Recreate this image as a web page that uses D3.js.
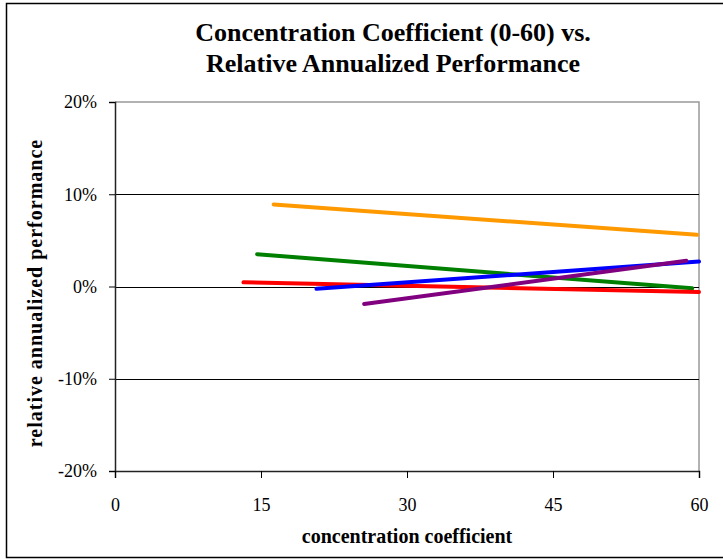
<!DOCTYPE html>
<html>
<head>
<meta charset="utf-8">
<script src="https://cdn.jsdelivr.net/npm/d3@7"></script>
<style>
  body { margin: 0; background: #fff; }
  svg { display: block; font-family: 'Liberation Serif', 'Times New Roman', serif; }
</style>
</head>
<body>
<script>
(function() {
  'use strict';

  // data: each series is a straight segment [x, y]
  const seriesNames = ['orange', 'green', 'red', 'blue', 'purple'];
  const seriesColors = ['#ff9900', '#008000', '#ff0000', '#0000ff', '#800080'];
  const orangeLine = [[16.3, 0.089], [59.8, 0.056]];
  const greenLine = [[14.6, 0.035], [59.3, -0.002]];
  const redLine = [[13.2, 0.0045], [60, -0.006]];
  const blueLine = [[20.7, -0.0025], [60, 0.027]];
  const purpleLine = [[25.6, -0.019], [58.7, 0.028]];
  const seriesValues = [orangeLine, greenLine, redLine, blueLine, purpleLine];

  const xTicks = [0, 15, 30, 45, 60];
  const yTicks = [-0.2, -0.1, 0, 0.1, 0.2];

  const w = 723;
  const h = 559;
  const left = 115;
  const right = 699;
  const top = 102;
  const bottom = 471;
  const serif = "'Liberation Serif', 'Times New Roman', serif";

  const svg = d3.select('body')
    .append('svg')
    .attr('width', w)
    .attr('height', h);

  // outer frame
  svg.append('rect')
    .attr('x', 6.5).attr('y', 3.5)
    .attr('width', w + 10).attr('height', 554)
    .attr('fill', 'none')
    .attr('stroke', '#000')
    .attr('stroke-width', 1.5);

  const xScale = d3.scaleLinear().domain([0, 60]).range([left, right]);
  const yScale = d3.scaleLinear().domain([-0.2, 0.2]).range([bottom, top]);

  // plot border (top + right are grey)
  svg.append('path')
    .attr('d', 'M' + left + ',' + top + 'H' + right + 'V' + bottom)
    .attr('fill', 'none')
    .attr('stroke', '#999')
    .attr('stroke-width', 1.5);

  // gridlines
  svg.append('g')
    .selectAll('line')
    .data(yTicks.filter((d) => d > -0.2 && d < 0.2))
    .enter()
    .append('line')
    .attr('x1', left).attr('x2', right)
    .attr('y1', (d) => Math.round(yScale(d)) + 0.5)
    .attr('y2', (d) => Math.round(yScale(d)) + 0.5)
    .attr('stroke', '#000')
    .attr('stroke-width', 1);

  // y axis
  const yAxis = d3.axisLeft(yScale)
    .tickValues(yTicks)
    .tickSizeOuter(0)
    .tickSize(6)
    .tickPadding(12);
  const gy = svg.append('g')
    .attr('transform', 'translate(' + left + ',0)')
    .call(yAxis)
    .attr('font-family', serif)
    .attr('font-size', 18);
  gy.select('.domain').attr('stroke', '#222').attr('stroke-width', 1.5);
  gy.selectAll('.tick line').attr('stroke', '#000');
  gy.selectAll('.tick text')
    .attr('fill', '#000')
    .text((d) => Math.round(d * 100) + '%');

  // x axis
  const xAxis = d3.axisBottom(xScale)
    .tickValues(xTicks)
    .tickSizeOuter(0)
    .tickSize(7)
    .tickPadding(20);
  const gx = svg.append('g')
    .attr('transform', 'translate(0,' + bottom + ')')
    .call(xAxis)
    .attr('font-family', serif)
    .attr('font-size', 18);
  gx.select('.domain').attr('stroke', '#222').attr('stroke-width', 1.5);
  gx.selectAll('.tick line').attr('stroke', '#000');
  gx.selectAll('.tick text').attr('fill', '#000');

  // series lines
  const line = d3.line()
    .x((d) => xScale(d[0]))
    .y((d) => yScale(d[1]));

  svg.append('g')
    .selectAll('path')
    .data(seriesValues)
    .enter()
    .append('path')
    .attr('class', (d, i) => 'series ' + seriesNames[i])
    .attr('d', line)
    .attr('fill', 'none')
    .attr('stroke', (d, i) => seriesColors[i])
    .attr('stroke-width', 4)
    .attr('stroke-linecap', 'round');

  // title
  const title = svg.append('text')
    .attr('text-anchor', 'middle')
    .attr('font-family', serif)
    .attr('font-weight', 'bold')
    .attr('font-size', 26);
  title.append('tspan').attr('x', 393).attr('y', 41)
    .text('Concentration Coefficient (0-60) vs.');
  title.append('tspan').attr('x', 393).attr('y', 72)
    .text('Relative Annualized Performance');

  // axis titles
  svg.append('text')
    .attr('x', 407).attr('y', 543)
    .attr('text-anchor', 'middle')
    .attr('font-family', serif)
    .attr('font-weight', 'bold')
    .attr('font-size', 20)
    .text('concentration coefficient');

  svg.append('text')
    .attr('transform', 'translate(42,293) rotate(-90)')
    .attr('text-anchor', 'middle')
    .attr('font-family', serif)
    .attr('font-weight', 'bold')
    .attr('font-size', 20)
    .attr('letter-spacing', 1)
    .text('relative annualized performance');
}());
</script>
</body>
</html>
